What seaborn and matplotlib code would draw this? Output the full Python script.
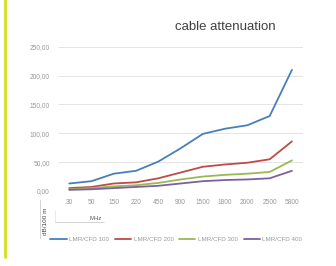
import matplotlib
matplotlib.use("Agg")
import matplotlib.pyplot as plt
import seaborn as sns
import pandas as pd
from matplotlib.lines import Line2D

# --- data ---
freqs = ["30", "50", "150", "220", "450", "900", "1500", "1800", "2000", "2500", "5800"]
lmr100 = [13, 17, 30, 35, 51, 74, 99, 108, 114, 130, 210]
lmr200 = [5, 7, 13, 15, 22, 32, 42, 46, 49, 55, 86]
lmr300 = [3, 5, 8, 10, 14, 20, 25, 28, 30, 33, 53]
lmr400 = [2, 3, 5, 7, 9, 13, 17, 19, 20, 22, 35]
series = ["LMR/CFD 100", "LMR/CFD 200", "LMR/CFD 300", "LMR/CFD 400"]
colors = ["#4a7ebb", "#be4b48", "#98b954", "#7d60a0"]

df = pd.DataFrame({"freq": freqs * 4,
                   "value": lmr100 + lmr200 + lmr300 + lmr400,
                   "series": sum([[s] * len(freqs) for s in series], [])})

sns.set_style("white")
plt.rcParams["font.family"] = ["Liberation Sans", "DejaVu Sans"]

fig = plt.figure(figsize=(3.36, 2.66), dpi=100)
ax = fig.add_axes([0.173, 0.282, 0.729, 0.542])

sns.lineplot(data=df, x="freq", y="value", hue="series", palette=colors,
             sort=False, linewidth=1.3, legend=False, ax=ax)

ax.set_xlim(-0.5, len(freqs) - 0.5)
ax.set_ylim(0, 250)
ax.set_yticks([0, 50, 100, 150, 200, 250])
ax.set_yticklabels([f"{v},00" for v in [0, 50, 100, 150, 200, 250]])
ax.grid(axis="y", color="#e4e4e4", linewidth=0.7)
for s in ax.spines.values():
    s.set_visible(False)
ax.axhline(0, color="#dddddd", linewidth=0.7)
ax.tick_params(axis="both", labelsize=4.8, colors="#999999", length=0, pad=6)
ax.set_xlabel("")
ax.set_ylabel("")

fig.text(0.67, 0.90, "cable attenuation", ha="center", va="center",
         fontsize=9.5, color="#404040")

# axis title boxes
fig.text(0.134, 0.17, "dB/100 m", rotation=90, ha="center", va="center",
         fontsize=4.6, color="#444444")
fig.add_artist(Line2D([0.119, 0.119], [0.105, 0.25], color="#cccccc", lw=0.6))
fig.text(0.285, 0.18, "MHz", ha="center", va="center", fontsize=4.3,
         color="#555555")
fig.add_artist(Line2D([0.164, 0.31], [0.165, 0.165], color="#cccccc", lw=0.6))
fig.add_artist(Line2D([0.164, 0.164], [0.165, 0.21], color="#e0e0e0", lw=0.5))

# legend
handles = [Line2D([], [], color=c, lw=1.3) for c in colors]
fig.legend(handles, series, loc="center", bbox_to_anchor=(0.525, 0.1),
           ncol=4, frameon=False, fontsize=4.5, handlelength=2.6,
           columnspacing=0.9, handletextpad=0.4, labelcolor="#999999")

# yellow accent bar on the left
fig.add_artist(Line2D([0.016, 0.016], [0.035, 1.0], color="#d4df1e", lw=2))

fig.savefig("out.png", dpi=100, facecolor="white")
